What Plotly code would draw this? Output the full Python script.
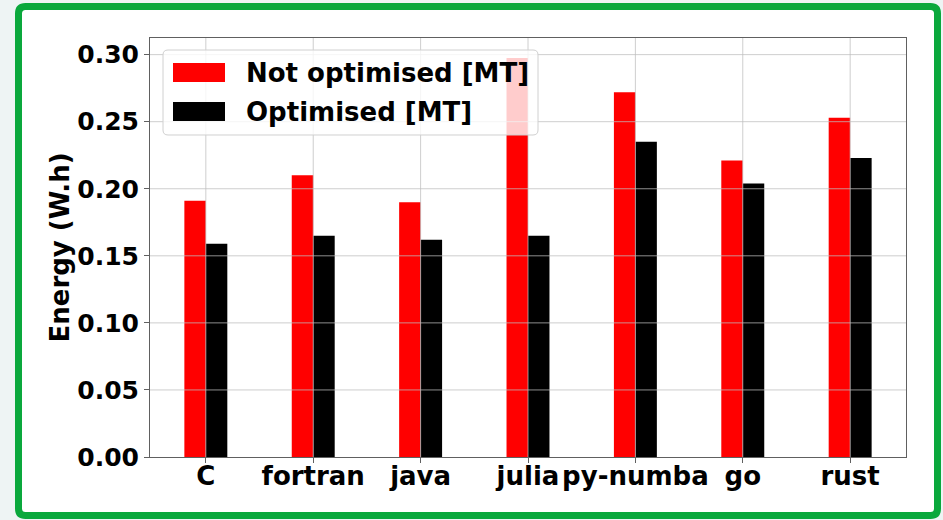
import plotly.graph_objects as go

# ---------------- data ----------------
languages = ["C", "fortran", "java", "julia", "py-numba", "go", "rust"]
not_optimised = [0.191, 0.210, 0.190, 0.2975, 0.272, 0.221, 0.253]
optimised = [0.159, 0.165, 0.162, 0.165, 0.235, 0.204, 0.223]
series_names = ["Not optimised [MT]", "Optimised [MT]"]
series_colors = ["#ff0000", "#000000"]
y_ticks = [0.00, 0.05, 0.10, 0.15, 0.20, 0.25, 0.30]
y_title = "Energy (W.h)"

# ---------------- layout geometry (pixels) ----------------
W, H = 943, 520
ML, MR, MT, MB = 150, 37, 38, 63
PW, PH = W - ML - MR, H - MT - MB
FONT = "DejaVu Sans"


def px_x(px):
    return (px - ML) / PW


def px_y(py):
    return (H - MB - py) / PH


def rounded_rect_path(x0, y0, x1, y1, r):
    def P(x, y):
        return f"{px_x(x):.5f},{px_y(y):.5f}"
    pts = ["M" + P(x0 + r, y0),
           "L" + P(x1 - r, y0),
           "Q" + P(x1, y0) + " " + P(x1, y0 + r),
           "L" + P(x1, y1 - r),
           "Q" + P(x1, y1) + " " + P(x1 - r, y1),
           "L" + P(x0 + r, y1),
           "Q" + P(x0, y1) + " " + P(x0, y1 - r),
           "L" + P(x0, y0 + r),
           "Q" + P(x0, y0) + " " + P(x0 + r, y0)]
    return " ".join(pts) + " Z"


fig = go.Figure()
for name, vals, col in zip(series_names, [not_optimised, optimised], series_colors):
    fig.add_trace(go.Bar(x=languages, y=vals, name=name,
                         marker=dict(color=col, line=dict(width=0)), showlegend=False))

shapes = []
# outer green frame (white inside)
shapes.append(dict(type="path", xref="paper", yref="paper", layer="below",
                   path=rounded_rect_path(18.5, 6.5, 937.5, 515.5, 7),
                   fillcolor="white", line=dict(color="#0aa83c", width=7)))
# gridlines drawn above bars (like matplotlib)
grid_col = "rgba(190,190,190,0.75)"
for yv in y_ticks[1:]:
    shapes.append(dict(type="line", xref="paper", yref="y", x0=0, x1=1, y0=yv, y1=yv,
                       layer="above", line=dict(color=grid_col, width=1)))
for i in range(len(languages)):
    shapes.append(dict(type="line", xref="x", yref="paper", x0=i, x1=i, y0=0, y1=1,
                       layer="above", line=dict(color=grid_col, width=1)))
# legend box
shapes.append(dict(type="path", xref="paper", yref="paper", layer="above",
                   path=rounded_rect_path(163, 50, 538, 135, 5),
                   fillcolor="rgba(255,255,255,0.8)", line=dict(color="#d0d0d0", width=1)))
sw_y = [(63, 82), (102, 121)]
for (y0, y1), col in zip(sw_y, series_colors):
    shapes.append(dict(type="rect", xref="paper", yref="paper", layer="above",
                       x0=px_x(173), x1=px_x(225), y0=px_y(y1), y1=px_y(y0),
                       fillcolor=col, line=dict(width=0)))

annotations = []
for (y0, y1), name in zip(sw_y, series_names):
    annotations.append(dict(xref="paper", yref="paper", x=px_x(244), y=px_y((y0 + y1) / 2 + 0.5),
                            text=name, showarrow=False, xanchor="left", yanchor="middle",
                            font=dict(family=FONT, size=26, color="black", weight="bold")))

axis_col = "#606060"
fig.update_layout(
    width=W, height=H,
    margin=dict(l=ML, r=MR, t=MT, b=MB, pad=0),
    paper_bgcolor="#eef4f4",
    plot_bgcolor="white",
    barmode="group",
    bargap=0.6,
    bargroupgap=0,
    shapes=shapes,
    annotations=annotations,
    showlegend=False,
    font=dict(family=FONT, color="black"),
)
fig.update_xaxes(
    type="category", range=[-0.52, len(languages) - 1 + 0.52],
    showgrid=False, showline=True, mirror=True, linecolor=axis_col, linewidth=1,
    ticks="outside", ticklen=5, tickcolor=axis_col, tickwidth=1,
    ticklabelstandoff=-9,
    tickfont=dict(family=FONT, size=26, color="black", weight="bold"),
    layer="above traces",
)
fig.update_yaxes(
    range=[0, 0.3124], tickvals=y_ticks, tickformat=".2f",
    showgrid=False, zeroline=False, showline=True, mirror=True, linecolor=axis_col, linewidth=1,
    ticks="outside", ticklen=5, tickcolor=axis_col, tickwidth=1,
    tickfont=dict(family=FONT, size=25, color="black", weight="bold"),
    title=dict(text=y_title, standoff=0, font=dict(family=FONT, size=26, color="black", weight="bold")),
    layer="above traces",
)

fig.write_html(
    "out.html",
    config={"displayModeBar": False},
    post_script="document.body.style.margin='0';document.body.style.padding='0';"
                "document.body.style.overflow='hidden';"
                "document.body.style.background='#eef4f4';",
)
